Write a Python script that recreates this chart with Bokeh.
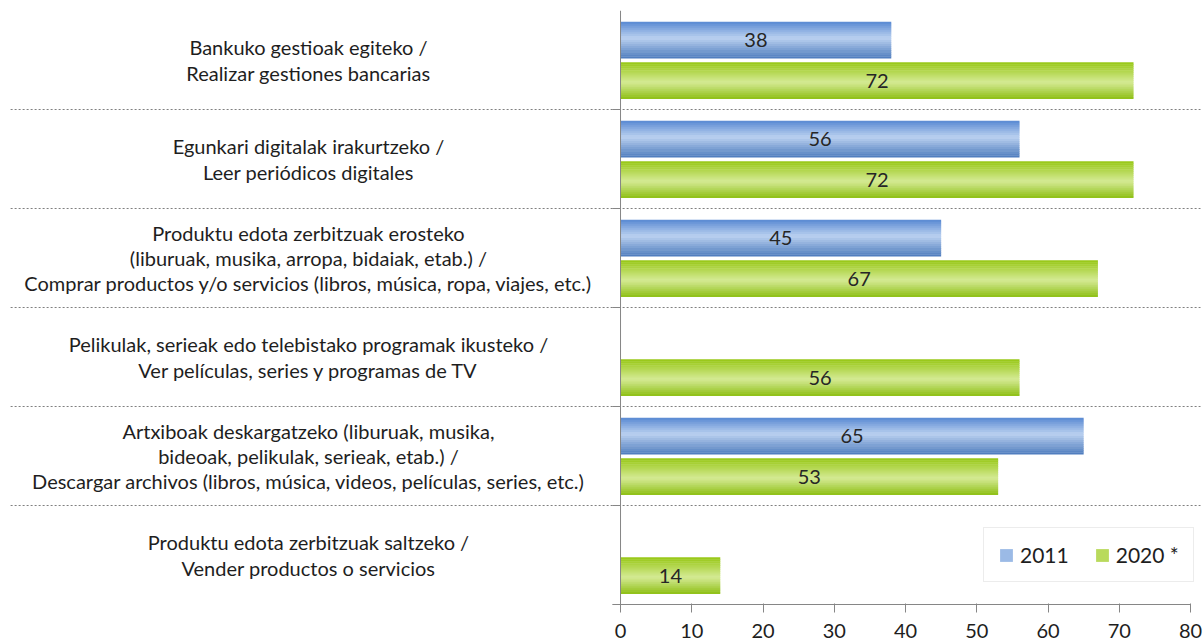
from bokeh.plotting import figure
from bokeh.models import Range1d, FixedTicker, Legend, LegendItem
from bokeh.core.properties import value
from bokeh.embed import file_html
from bokeh.resources import INLINE

# ---------------- data ----------------
categories = [
    "Bankuko gestioak egiteko /\nRealizar gestiones bancarias",
    "Egunkari digitalak irakurtzeko /\nLeer periódicos digitales",
    "Produktu edota zerbitzuak erosteko\n(liburuak, musika, arropa, bidaiak, etab.) /\nComprar productos y/o servicios (libros, música, ropa, viajes, etc.)",
    "Pelikulak, serieak edo telebistako programak ikusteko /\nVer películas, series y programas de TV",
    "Artxiboak deskargatzeko (liburuak, musika,\nbideoak, pelikulak, serieak, etab.) /\nDescargar archivos (libros, música, videos, películas, series, etc.)",
    "Produktu edota zerbitzuak saltzeko /\nVender productos o servicios",
]
series_names = ["2011", "2020 *"]
values_2011 = [38, 56, 45, None, 65, None]
values_2020 = [72, 72, 67, 56, 53, 14]
x_ticks = [0, 10, 20, 30, 40, 50, 60, 70, 80]

# ---------------- styles ----------------
FONT = "Lato"
TEXT_COLOR = "#1e1e1e"
AXIS_COLOR = "#868686"
blue_stops = [(0.0, (0x58, 0x89, 0xd2)), (0.45, (0xbb, 0xd1, 0xf0)), (1.0, (0x4b, 0x7a, 0xbc))]
green_stops = [(0.0, (0x97, 0xc7, 0x14)), (0.55, (0xd5, 0xea, 0x95)), (1.0, (0x8e, 0xbf, 0x14))]
N_STRIPS = 18
BAR_H = 0.37
OFFSETS = [0.30, 0.71]  # offset of bar centre from band top (band units)


def grad(stops, t):
    for (t0, c0), (t1, c1) in zip(stops[:-1], stops[1:]):
        if t0 <= t <= t1:
            f = (t - t0) / (t1 - t0)
            return "#%02x%02x%02x" % tuple(int(round(a + (b - a) * f)) for a, b in zip(c0, c1))
    return "#%02x%02x%02x" % stops[-1][1]


n = len(categories)
band_top = [n - i for i in range(n)]
band_mid = [n - i - 0.5 for i in range(n)]

p = figure(width=1203, height=640, output_backend="svg", toolbar_location=None,
           x_range=Range1d(-87.02, 81.82), y_range=Range1d(-0.01, n),
           y_axis_location=None, min_border_left=0, min_border_right=0,
           min_border_top=10, min_border_bottom=33)
p.outline_line_color = None
p.xgrid.visible = False
p.ygrid.visible = False
p.background_fill_color = "white"
p.border_fill_color = "white"

# x axis
ax = p.xaxis[0]
ax.ticker = FixedTicker(ticks=x_ticks)
ax.axis_line_color = None
ax.major_tick_line_color = AXIS_COLOR
ax.major_tick_in = 2
ax.major_tick_out = 7
ax.minor_tick_line_color = None
ax.major_label_text_font = FONT
ax.major_label_text_font_size = "20px"
ax.major_label_text_color = TEXT_COLOR
ax.major_label_standoff = 11

# separators (dotted)
sep_y = band_top[1:]
p.segment(x0=[-85.6] * len(sep_y), y0=sep_y, x1=[81.4] * len(sep_y), y1=sep_y,
          line_color="#808080", line_dash="2 2", line_width=1)

# bars with gradient strips
legend_renderers = []
for k, (vals, stops) in enumerate([(values_2011, blue_stops), (values_2020, green_stops)]):
    ys, rs = [], []
    for i, v in enumerate(vals):
        if v is None:
            continue
        ys.append(band_top[i] - OFFSETS[k])
        rs.append(v)
    rep = None
    for j in range(N_STRIPS):
        t = (j + 0.5) / N_STRIPS
        sy = [c + BAR_H / 2 - (j + 0.5) * BAR_H / N_STRIPS for c in ys]
        h = BAR_H / N_STRIPS * (1.25 if j < N_STRIPS - 1 else 1.0)
        r = p.hbar(y=sy, height=h, left=0, right=rs, fill_color=grad(stops, t), line_color=None)
        if j == 5:
            rep = r
    legend_renderers.append(rep)
    # value labels
    p.text(x=[v / 2 for v in rs], y=ys, text=[str(v) for v in rs],
           text_align="center", text_baseline="middle",
           text_font=value(FONT), text_font_size="20px", text_color="#262626")

# axis lines
p.segment(x0=[0], y0=[0], x1=[0], y1=[n], line_color=AXIS_COLOR, line_width=1)
p.segment(x0=[-1.15], y0=[0], x1=[80], y1=[0], line_color=AXIS_COLOR, line_width=1)
p.segment(x0=[-1.15] * len(sep_y), y0=sep_y, x1=[0] * len(sep_y), y1=sep_y,
          line_color=AXIS_COLOR, line_width=1)

# category labels
p.text(x=[-43.8] * n, y=band_mid, text=categories,
       text_align="center", text_baseline="middle", text_line_height=1.055,
       text_font=value(FONT), text_font_size="20px", text_color=TEXT_COLOR)

legend = Legend(items=[LegendItem(label=series_names[0], renderers=[legend_renderers[0]]),
                       LegendItem(label=series_names[1], renderers=[legend_renderers[1]])],
                orientation="horizontal", location=(983, 23))
legend.label_text_font = FONT
legend.label_text_font_size = "21px"
legend.label_text_color = TEXT_COLOR
legend.glyph_width = 16
legend.glyph_height = 16
legend.label_standoff = 6
legend.spacing = 25
legend.padding = 14
legend.margin = 0
legend.border_line_color = "#d9d9d9"
legend.background_fill_color = "white"
legend.background_fill_alpha = 1
p.add_layout(legend, "center")

open("out.html", "w").write(file_html(p, INLINE))
